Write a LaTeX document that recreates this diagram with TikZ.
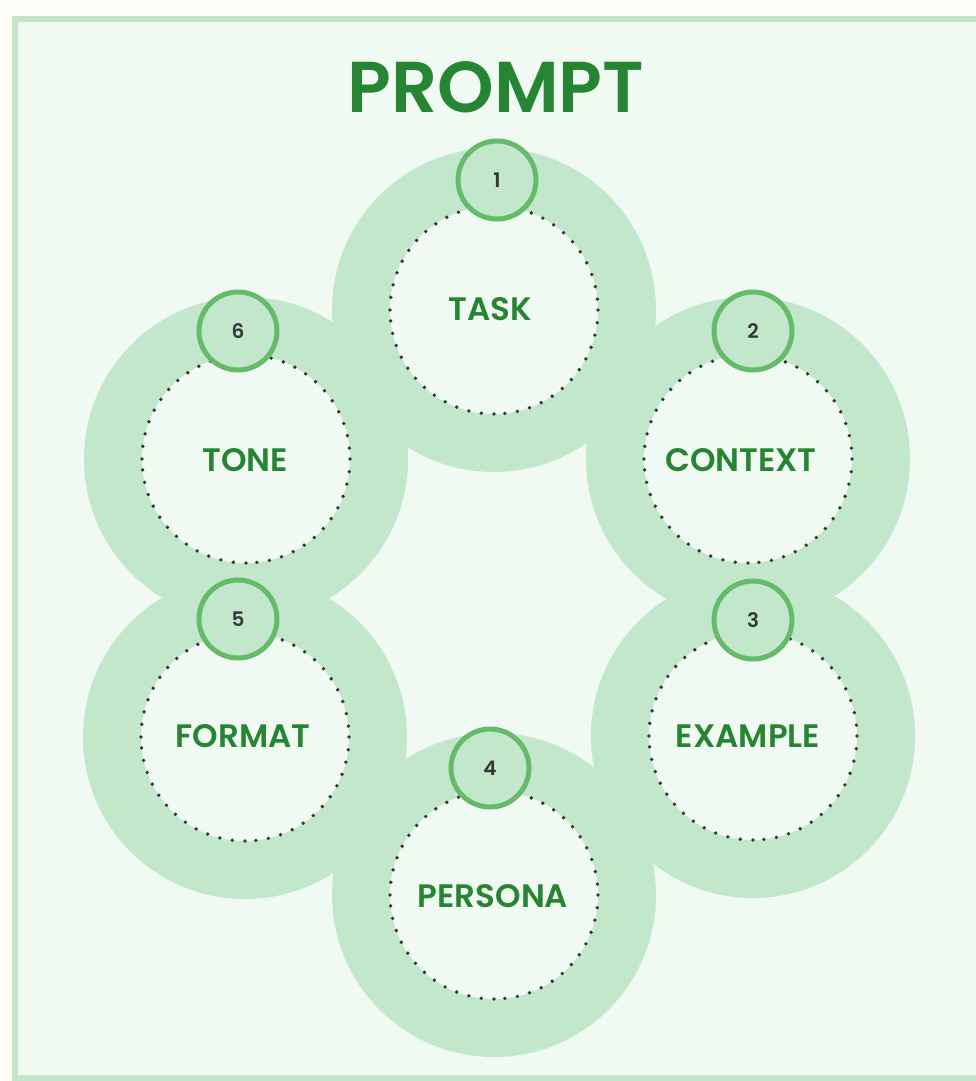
\documentclass[tikz,border=0pt]{standalone}
\usepackage{fontspec}
\setmainfont{Poppins}
\newfontfamily\headfont{Poppins SemiBold}
\newfontfamily\numfont{Poppins SemiBold}
\usetikzlibrary{positioning}
\definecolor{creambg}{HTML}{FFFDF7}
\definecolor{mintbg}{HTML}{F0F9F2}
\definecolor{mintframe}{HTML}{C3E6CB}
\definecolor{discgreen}{HTML}{C3E7CB}
\definecolor{ringgreen}{HTML}{66BB6A}
\definecolor{labelgreen}{HTML}{268532}
\definecolor{dotgray}{HTML}{363636}

\tikzset{
  disc/.style={circle,fill=discgreen,minimum size=324pt,inner sep=0pt},
  innerring/.style={circle,fill=mintbg,minimum size=208pt,inner sep=0pt,outer sep=0pt},
  ringdot/.style={fill=dotgray},
  partlabel/.style={text=labelgreen,inner sep=0pt,font=\headfont\fontsize{32.5}{32.5}\selectfont},
  numring/.style={circle,fill=discgreen,draw=ringgreen,line width=5pt,minimum size=78pt,
    inner sep=0pt,text=dotgray,font=\numfont\fontsize{20}{20}\selectfont}
}

\newcommand\promptparts{task/494/310/490/309/497/180/1/TASK,
  context/748/459/741/460/753/331/2/CONTEXT,
  example/753/736/748/736/753/620/3/EXAMPLE,
  persona/494/895/493/896/490/768/4/PERSONA,
  format/245/737/243/736/238/619/5/FORMAT,
  tone/246/459/245/460/238/331/6/TONE}

\begin{document}
\begin{tikzpicture}[x=1pt,y=-1pt]
  \useasboundingbox (0,0) rectangle (976,1081);
  \fill[creambg] (0,0) rectangle (976,1081);
  \draw[mintframe,fill=mintbg,line width=6pt] (15,19) rectangle (995,1078);

  \node[text=labelgreen,font=\headfont\fontsize{72}{72}\selectfont] (title) at (496,87) {PROMPT};

  \foreach \name/\cx/\cy/\lx/\ly/\nx/\ny/\num/\txt in \promptparts
    \node[disc] (\name-disc) at (\cx,\cy) {};
  \foreach \name/\cx/\cy/\lx/\ly/\nx/\ny/\num/\txt in \promptparts {
    \node[innerring] (\name) at (\cx,\cy) {};
    \foreach \k [evaluate=\k as \ang using \k/52*360] in {1,...,52}
      \fill[ringdot] (\name.\ang) circle[radius=1.9pt];
    \node[partlabel] (\name-label) at (\lx,\ly) {\txt};
  }
  \foreach \name/\cx/\cy/\lx/\ly/\nx/\ny/\num/\txt in \promptparts
    \node[numring] (\name-num) at (\nx,\ny) {\num};
\end{tikzpicture}
\end{document}
